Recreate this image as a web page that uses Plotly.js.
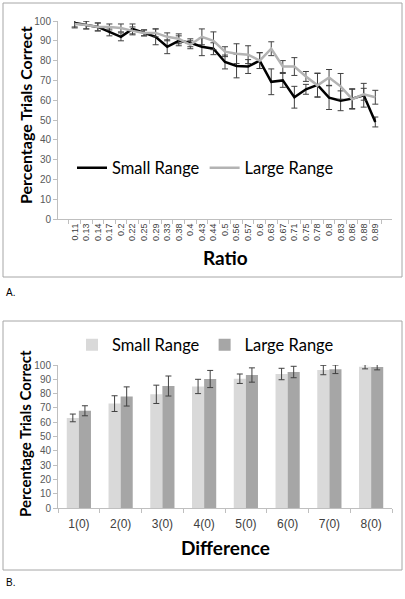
<!DOCTYPE html>
<html>
<head>
<meta charset="utf-8">
<script src="https://cdn.plot.ly/plotly-3.0.1.min.js"></script>
<style>
html,body{margin:0;padding:0;background:#fff;}
#chart{width:405px;height:599px;}
</style>
</head>
<body>
<div id="chart"></div>
<script>
// ---- Data ----
var ratios = ["0.11","0.13","0.14","0.17","0.2","0.22","0.25","0.29","0.33","0.38","0.4","0.43","0.44","0.5","0.56","0.57","0.6","0.63","0.67","0.71","0.75","0.78","0.8","0.83","0.86","0.88","0.89"];
var smallRatio    = [99, 98, 97, 94.5, 92, 96, 94, 92, 87, 90, 89, 87, 86, 79.3, 77.3, 77, 80, 69.3, 70, 61.5, 65.5, 67.7, 61.3, 59.7, 60.8, 62.5, 49];
var smallRatioErr = [2, 2, 2, 2, 2, 2.5, 1.5, 4, 3.5, 2.5, 2, 4.5, 3, 3.5, 6, 3.5, 4, 6.5, 3.5, 5.5, 2.5, 6, 6, 5, 5, 6, 2.5];
var largeRatio    = [98.5, 98, 97, 97, 96.5, 95, 94, 94, 92, 91, 88, 92, 90, 84.5, 83.5, 83, 80, 86, 77, 77, 72, 67.5, 71.5, 67, 60.5, 63, 61.5];
var largeRatioErr = [2, 2, 2, 1.5, 2, 2, 1.5, 2, 2, 2.5, 2, 4, 4.5, 2.5, 5, 4.5, 4, 3.5, 3, 4.5, 2.5, 6, 4, 6.5, 5, 3, 3.5];

var diffs      = ["1(0)","2(0)","3(0)","4(0)","5(0)","6(0)","7(0)","8(0)"];
var smallDiff    = [63, 73, 79.5, 85, 90.4, 93.7, 96.5, 98.8];
var smallDiffErr = [2.7, 5.5, 6.4, 5, 3.3, 4, 3.3, 1.5];
var largeDiff    = [68, 78, 85.3, 90.2, 93, 95.1, 97, 98.6];
var largeDiffErr = [3.5, 6.7, 7, 6, 5, 4, 3, 2];

// ---- helpers for pixel placement ----
var W = 405, H = 599;
function px(x){ return x / W; }
function py(y){ return 1 - y / H; }

var errStyle = {type:'data', visible:true, color:'#404040', thickness:1, width:3};
var tickFont = {family:'Liberation Sans, Arial, sans-serif', size:10, color:'#595959'};
var axisColor = '#bfbfbf';

var traces = [
  {x: ratios, y: smallRatio, type:'scatter', mode:'lines', name:'Small Range',
   line:{color:'#000000', width:2.5}, xaxis:'x', yaxis:'y', legend:'legend',
   error_y: Object.assign({array: smallRatioErr}, errStyle)},
  {x: ratios, y: largeRatio, type:'scatter', mode:'lines', name:'Large Range',
   line:{color:'#b3b3b3', width:2.5}, xaxis:'x', yaxis:'y', legend:'legend',
   error_y: Object.assign({array: largeRatioErr}, errStyle)},
  {x: diffs, y: smallDiff, type:'bar', name:'Small Range',
   marker:{color:'#d9d9d9'}, xaxis:'x2', yaxis:'y2', legend:'legend2',
   error_y: Object.assign({array: smallDiffErr}, errStyle)},
  {x: diffs, y: largeDiff, type:'bar', name:'Large Range',
   marker:{color:'#a6a6a6'}, xaxis:'x2', yaxis:'y2', legend:'legend2',
   error_y: Object.assign({array: largeDiffErr}, errStyle)}
];

var yCommon = {range:[0,100], dtick:10, showgrid:false, zeroline:false, showline:true,
  linecolor:axisColor, ticks:'outside', ticklen:4, tickcolor:axisColor, tickfont:tickFont, fixedrange:true};

function ann(text, x, y, size, angle, family){
  return {text:text, xref:'paper', yref:'paper', x:px(x), y:py(y), xanchor:'center', yanchor:'middle',
    textangle:angle||0, showarrow:false, font:{family:family||'Lato, sans-serif', size:size, color:'#000'}};
}

var layout = {
  width: W, height: H,
  margin:{l:0,r:0,t:0,b:0},
  paper_bgcolor:'#ffffff', plot_bgcolor:'#ffffff',
  showlegend:true,
  barmode:'group', bargap:0.42, bargroupgap:0,
  xaxis:{domain:[px(58), px(392)], anchor:'y', type:'category', showgrid:false, zeroline:false,
    showline:true, linecolor:axisColor, ticks:'outside', tickson:'boundaries', ticklen:4, tickcolor:axisColor,
    tickangle:-90, tickfont:{family:'Liberation Sans, Arial, sans-serif', size:9, color:'#404040'}},
  yaxis:Object.assign({domain:[py(219), py(21)], anchor:'x'}, yCommon),
  xaxis2:{domain:[px(58), px(392)], anchor:'y2', type:'category', showgrid:false, zeroline:false,
    showline:true, linecolor:axisColor, ticks:'outside', tickson:'boundaries', ticklen:4, tickcolor:axisColor,
    ticklabelstandoff:5,
    tickfont:{family:'Liberation Sans, Arial, sans-serif', size:12, color:'#404040'}},
  yaxis2:Object.assign({domain:[py(508), py(365)], anchor:'x2'}, yCommon),
  legend:{orientation:'h', x:px(72), y:py(168), xanchor:'left', yanchor:'middle',
    font:{family:'Lato, sans-serif', size:16.5, color:'#000'}, bgcolor:'rgba(0,0,0,0)', itemwidth:30},
  legend2:{orientation:'h', x:px(72), y:py(345), xanchor:'left', yanchor:'middle',
    font:{family:'Lato, sans-serif', size:16.5, color:'#000'}, bgcolor:'rgba(0,0,0,0)', itemwidth:30},
  shapes:[
    {type:'rect', xref:'paper', yref:'paper', x0:px(3), x1:px(402), y0:py(277), y1:py(3),
     line:{color:'#a6a6a6', width:1}},
    {type:'rect', xref:'paper', yref:'paper', x0:px(3), x1:px(402), y0:py(570), y1:py(321),
     line:{color:'#a6a6a6', width:1}}
  ],
  annotations:[
    ann('<b>Percentage Trials Correct</b>', 25, 115, 16, -90),
    ann('<b>Ratio</b>', 225, 257, 19),
    Object.assign(ann('A.', 4, 292, 10, 0, 'Liberation Sans, Arial, sans-serif'), {xanchor:'left'}),
    ann('<b>Percentage Trials Correct</b>', 25, 434, 15, -90),
    ann('<b>Difference</b>', 225, 547, 19),
    Object.assign(ann('B.', 4, 582, 10, 0, 'Liberation Sans, Arial, sans-serif'), {xanchor:'left'})
  ]
};

Plotly.newPlot('chart', traces, layout, {displayModeBar:false, staticPlot:true});
</script>
</body>
</html>
